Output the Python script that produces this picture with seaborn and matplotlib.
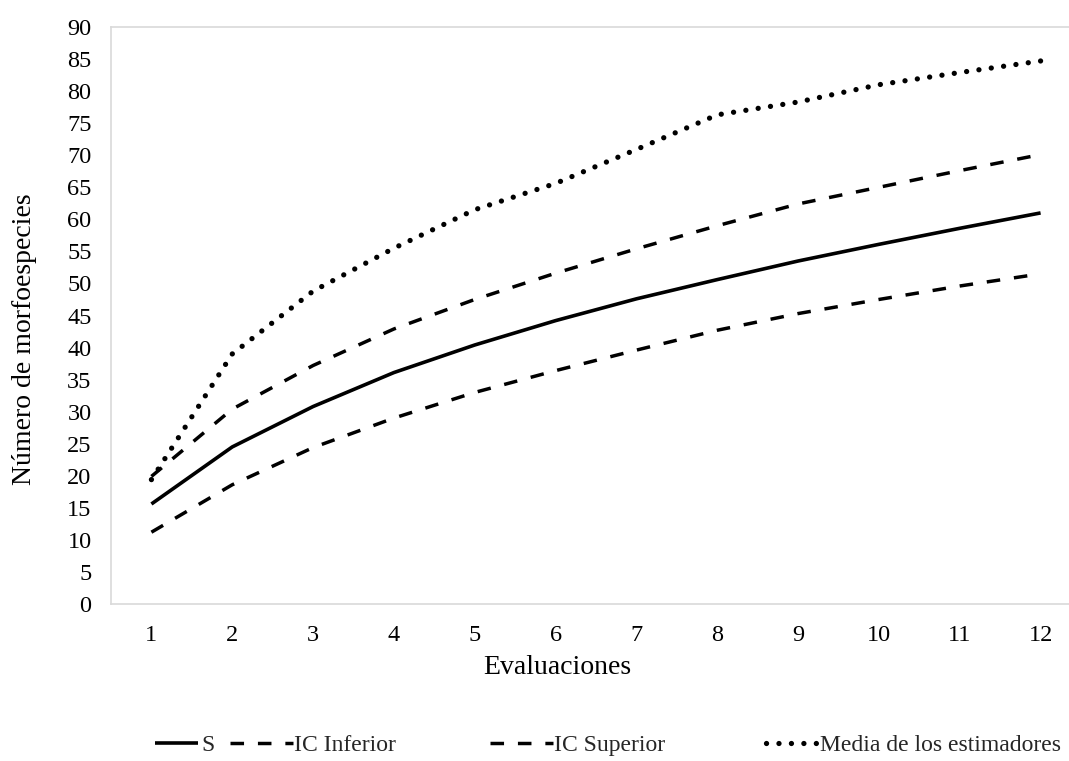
import matplotlib
matplotlib.use("Agg")
import matplotlib.pyplot as plt
import seaborn as sns
import pandas as pd

evaluaciones = [1, 2, 3, 4, 5, 6, 7, 8, 9, 10, 11, 12]
s_obs = [15.6, 24.5, 30.8, 36.1, 40.4, 44.2, 47.6, 50.6, 53.5, 56.1, 58.6, 61.0]
ic_inferior = [11.2, 18.6, 24.4, 29.0, 33.0, 36.4, 39.6, 42.7, 45.3, 47.5, 49.6, 51.5]
ic_superior = [19.9, 30.4, 37.2, 42.9, 47.5, 51.6, 55.4, 59.0, 62.4, 65.0, 67.6, 70.1]
media_est = [19.4, 39.0, 48.8, 55.5, 61.5, 65.6, 70.9, 76.3, 78.3, 81.0, 82.9, 84.7]
series_names = ["S", "IC Inferior", "IC Superior", "Media de los estimadores"]
y_ticks = list(range(0, 91, 5))

df = pd.DataFrame({
    "Evaluaciones": evaluaciones,
    "S": s_obs,
    "IC Inferior": ic_inferior,
    "IC Superior": ic_superior,
    "Media de los estimadores": media_est,
})

sns.set_theme(style="white")
plt.rcParams["font.family"] = ["Liberation Serif", "DejaVu Serif"]

fig = plt.figure(figsize=(10.69, 7.61), dpi=100)
ax = fig.add_axes([111 / 1069, 157 / 761, 970 / 1069, 577 / 761])

styles = {
    "S": dict(ls="-", lw=2.6, cap="butt"),
    "IC Inferior": dict(ls=(0, (3.9, 4.0)), lw=2.5, cap="butt"),
    "IC Superior": dict(ls=(0, (3.9, 4.0)), lw=2.5, cap="butt"),
    "Media de los estimadores": dict(ls=(0, (0.01, 2.35)), lw=3.8, cap="round"),
}

lines = {}
for name in series_names:
    st = styles[name]
    sns.lineplot(data=df, x="Evaluaciones", y=name, ax=ax, color="black",
                 linewidth=st["lw"], linestyle=st["ls"], label=name, legend=False)
    ln = ax.get_lines()[-1]
    ln.set_dash_capstyle(st["cap"])
    ln.set_solid_capstyle("butt")
    lines[name] = ln

ax.set_xlim(0.5, 12.5)
ax.set_ylim(0, 90)
ax.set_xticks(evaluaciones)
ax.set_xticklabels([str(v) for v in evaluaciones])
ax.set_yticks(y_ticks)
ax.set_yticklabels([str(v) for v in y_ticks])
ax.tick_params(axis="both", length=0, labelsize=17.5, colors="black")
ax.tick_params(axis="y", pad=14)
ax.tick_params(axis="x", pad=15)
ax.grid(False)
for side in ["left", "bottom", "top"]:
    ax.spines[side].set_visible(True)
    ax.spines[side].set_color("#d9d9d9")
    ax.spines[side].set_linewidth(1.2)
ax.spines["right"].set_visible(False)

ax.set_xlabel("Evaluaciones", fontsize=20, color="black", va="center")
ax.xaxis.set_label_coords((557 - 111) / 970, (604 - 668) / 577)
ax.set_ylabel("Número de morfoespecies", fontsize=20, color="black", va="center")
ax.yaxis.set_label_coords((25 - 111) / 970, (604 - 339) / 577)

leg_cfg = {
    "S": (155, 1.8, 0.15),
    "IC Inferior": (230, 2.65, 0.05),
    "IC Superior": (490, 2.65, 0.05),
    "Media de los estimadores": (766, 2.2, 0.1),
}
for name in series_names:
    x0, hl, tp = leg_cfg[name]
    fig.legend(handles=[lines[name]], labels=[name], loc="center left",
               bbox_to_anchor=(x0 / 1069, 16 / 761), frameon=False,
               fontsize=17, handlelength=hl, handletextpad=tp,
               borderpad=0, borderaxespad=0)

fig.savefig("out.png", dpi=100, facecolor="white")
